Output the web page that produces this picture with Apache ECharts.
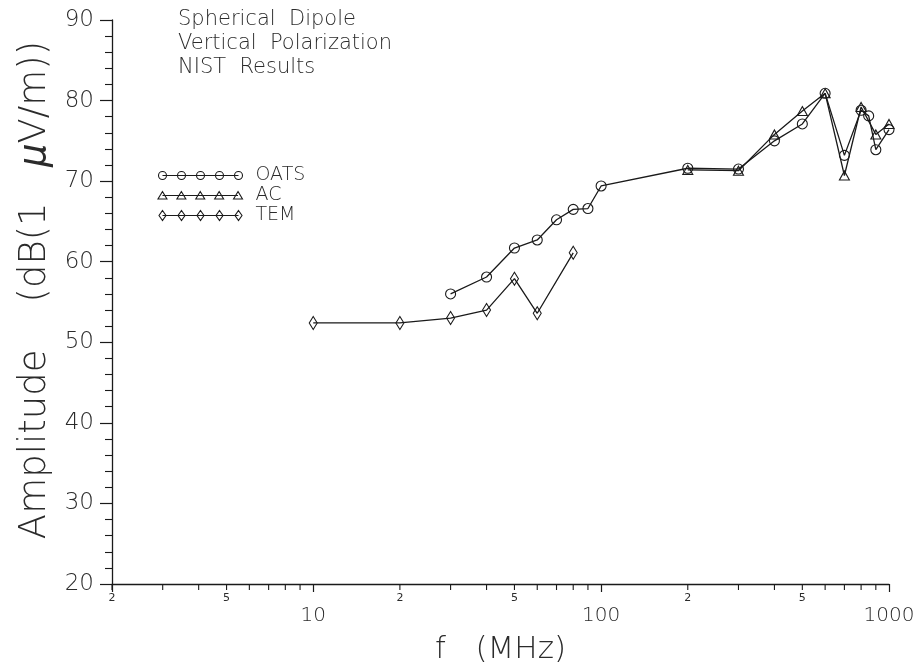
<!DOCTYPE html>
<html>
<head>
<meta charset="utf-8">
<script src="https://cdn.jsdelivr.net/npm/echarts@6/dist/echarts.min.js"></script>
<style>
  html, body { margin: 0; padding: 0; background: #fff; }
  #chart { width: 919px; height: 670px; }
</style>
</head>
<body>
<div id="chart"></div>
<script>
// Measured field amplitude of the spherical dipole, vertical polarization
const oatsFreq = [30, 40, 50, 60, 70, 80, 90, 100, 200, 300, 400, 500, 600, 700, 800, 850, 900, 1000];
const oatsAmp  = [56.0, 58.1, 61.7, 62.7, 65.2, 66.5, 66.6, 69.4, 71.6, 71.5, 75.0, 77.1, 80.9, 73.2, 78.8, 78.1, 73.9, 76.4];

const acFreq = [200, 300, 400, 500, 600, 700, 800, 900, 1000];
const acAmp  = [71.4, 71.3, 75.8, 78.7, 80.9, 70.7, 79.2, 75.8, 77.1];

const temFreq = [10, 20, 30, 40, 50, 60, 80];
const temAmp  = [52.4, 52.4, 53.0, 54.0, 57.9, 53.6, 61.1];

// Log-axis minor ticks (2..9 in each decade) and their small labels
const minorTicks = [2, 3, 4, 5, 6, 7, 8, 9, 20, 30, 40, 50, 60, 70, 80, 90, 200, 300, 400, 500, 600, 700, 800, 900];
const minorTickLabels = ['2', '', '', '5', '', '', '', '', '2', '', '', '5', '', '', '', '', '2', '', '', '5', '', '', '', ''];
const majorTickLabels = [10, 100, 1000];

const titleLines = ['Spherical  Dipole', 'Vertical  Polarization', 'NIST  Results'];

const FONT = "'DejaVu Sans', sans-serif";
const WEIGHT = 300;
const INK = '#1a1a1a';
const TEXT = '#2b2b2b';

function zip(xs, ys) { return xs.map((x, i) => [x, ys[i]]); }

// Legend samples: a short line with five markers on it
function legendPath(kind) {
  let d = 'M0 0 M85 10 M5 5 L81 5';
  for (let i = 0; i < 5; i++) {
    const cx = 5 + 19 * i;
    if (kind === 'circle') {
      d += ` M${cx + 4} 5 A4 4 0 1 1 ${cx - 4} 5 A4 4 0 1 1 ${cx + 4} 5 Z`;
    } else if (kind === 'triangle') {
      d += ` M${cx} 1 L${cx + 4.5} 8.5 L${cx - 4.5} 8.5 Z`;
    } else {
      d += ` M${cx} 0 L${cx + 3.5} 5 L${cx} 10 L${cx - 3.5} 5 Z`;
    }
  }
  return 'path://' + d;
}

const markerStyle = { color: 'none', borderColor: INK, borderWidth: 1.1 };
const lineStyle = { color: INK, width: 1.3 };

function dataSeries(name, freq, amp, symbol, size) {
  return {
    name, type: 'line', data: zip(freq, amp),
    symbol, symbolSize: size, showAllSymbol: true,
    itemStyle: markerStyle, lineStyle,
    emphasis: { disabled: true }, z: 3
  };
}

const chart = echarts.init(document.getElementById('chart'));
chart.setOption({
  animation: false,
  backgroundColor: '#fff',
  grid: { left: 112, right: 30, top: 20, bottom: 73 },
  xAxis: {
    type: 'log', logBase: 10, min: 2, max: 1000,
    name: 'f   (MHz)', nameLocation: 'middle', nameGap: 50,
    nameTextStyle: { fontFamily: FONT, fontWeight: WEIGHT, fontSize: 31, color: TEXT },
    axisLine: { show: true, onZero: false, lineStyle: { color: INK, width: 1.3 } },
    axisTick: { show: true, inside: false, length: 8, lineStyle: { color: INK, width: 1.2 } },
    axisLabel: {
      margin: 22, fontFamily: FONT, fontWeight: WEIGHT, fontSize: 20, color: TEXT,
      formatter: v => majorTickLabels.includes(Math.round(v)) ? String(Math.round(v)) : ''
    },
    splitLine: { show: false }
  },
  yAxis: {
    type: 'value', min: 20, max: 90, interval: 10,
    name: 'Amplitude    (dB(1   {mu|μ}V/m))', nameLocation: 'middle', nameGap: 54, nameRotate: 90,
    nameTextStyle: {
      fontFamily: FONT, fontWeight: WEIGHT, fontSize: 37, color: TEXT,
      padding: [0, 0, 0, 24],
      rich: { mu: { fontFamily: FONT, fontWeight: WEIGHT, fontSize: 37, fontStyle: 'italic', color: TEXT } }
    },
    axisLine: { show: true, lineStyle: { color: INK, width: 1.3 } },
    axisTick: { show: true, inside: false, length: 12, lineStyle: { color: INK, width: 1.2 } },
    minorTick: { show: true, splitNumber: 5, length: 7, lineStyle: { color: INK, width: 1.1 } },
    axisLabel: { margin: 18, fontFamily: FONT, fontWeight: WEIGHT, fontSize: 23, color: TEXT },
    splitLine: { show: false }
  },
  legend: {
    orient: 'vertical', left: 150, top: 161,
    itemWidth: 85, itemHeight: 10, itemGap: 1,
    selectedMode: false,
    textStyle: { fontFamily: FONT, fontWeight: WEIGHT, fontSize: 19, lineHeight: 19, color: TEXT, padding: [0, 0, 0, 8] },
    itemStyle: { color: 'none', borderColor: INK, borderWidth: 1.1 },
    data: [
      { name: 'OATS', icon: legendPath('circle') },
      { name: 'AC', icon: legendPath('triangle') },
      { name: 'TEM', icon: legendPath('diamond') }
    ]
  },
  graphic: [{
    type: 'text', left: 178, top: 8,
    style: { text: titleLines.join('\n'), fontFamily: FONT, fontWeight: WEIGHT, fontSize: 21, lineHeight: 24, fill: TEXT }
  }],
  series: [
    dataSeries('OATS', oatsFreq, oatsAmp, 'circle', 10),
    dataSeries('AC', acFreq, acAmp, 'triangle', [10, 9]),
    dataSeries('TEM', temFreq, temAmp, 'diamond', [8, 13]),
    {
      // minor ticks of the logarithmic frequency axis
      type: 'custom', silent: true, clip: false,
      data: minorTicks.map(v => [v, 20]),
      renderItem(params, api) {
        const p = api.coord([api.value(0), 20]);
        const children = [{
          type: 'line',
          shape: { x1: p[0], y1: p[1], x2: p[0], y2: p[1] + 6 },
          style: { stroke: INK, lineWidth: 1.1 }
        }];
        const lab = minorTickLabels[params.dataIndex];
        if (lab) {
          children.push({
            type: 'text', x: p[0], y: p[1] + 9,
            style: { text: lab, fontFamily: FONT, fontSize: 11, fill: TEXT, align: 'center', verticalAlign: 'top' }
          });
        }
        return { type: 'group', children };
      }
    }
  ]
});
</script>
</body>
</html>
